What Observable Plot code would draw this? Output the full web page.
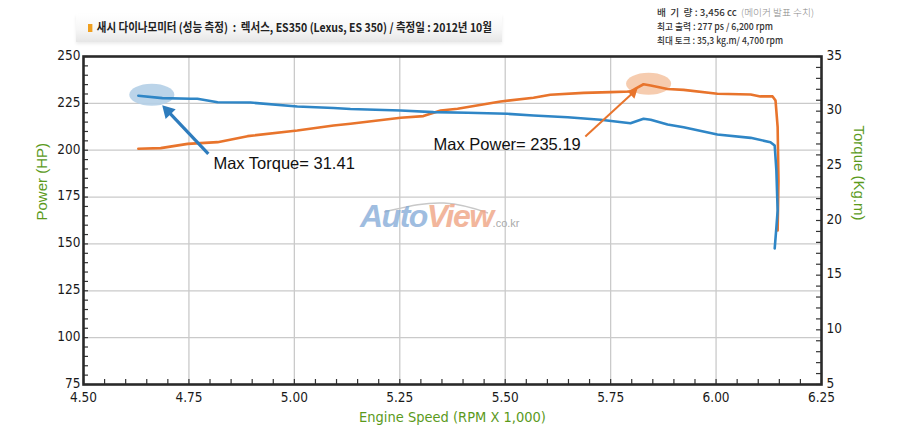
<!DOCTYPE html>
<html>
<head>
<meta charset="utf-8">
<script src="https://cdn.jsdelivr.net/npm/d3@7"></script>
<script src="https://cdn.jsdelivr.net/npm/@observablehq/plot@0.6"></script>
<style>
  html, body { margin: 0; padding: 0; background: #fff; }
  #wrap { position: relative; width: 900px; height: 436px; overflow: hidden; }
  #chart { position: absolute; left: 0; top: 0; }
  .hdr { position: absolute; white-space: nowrap; font-family: "Noto Sans CJK KR", sans-serif; transform-origin: 0 50%; }
  #titlebox { position: absolute; left: 76px; top: 14px; width: 426px; height: 28px;
    background: linear-gradient(to bottom, #ffffff 0%, #f6f6f6 55%, #e6e6e6 100%);
    box-shadow: 0 2px 3px rgba(0,0,0,0.08); }
  #title { left: 88px; top: 19px; font-size: 12px; line-height: 16px; color: #222; font-weight: 600; }
  #title .sq { display: inline-block; width: 5px; height: 8px; background: #f0a020; margin-right: 5px; vertical-align: 0px; }
  .spec { font-size: 9.5px; line-height: 14px; color: #333; font-weight: 500; }
  .spec .g { color: #888; font-weight: 300; }
  #wm { position: absolute; left: 360px; top: 198px; font-family: "Liberation Sans", Arial, sans-serif; font-style: italic; font-weight: bold; font-size: 32px; letter-spacing: -1.5px; white-space: nowrap; }
  #wm .a { color: #7fa8d6; opacity: 0.75; }
  #wm .v { color: #f0a484; opacity: 0.8; }
  #wm .c { font-size: 11px; font-style: normal; font-weight: normal; color: #aaa; letter-spacing: 0; }
</style>
</head>
<body>
<div id="wrap">
  <div id="chart"></div>
  <div id="titlebox"></div>
  <div class="hdr" id="title"><span class="sq"></span>새시 다이나모미터 (성능 측정) &nbsp;: &nbsp;렉서스, ES350 (Lexus, ES 350) / 측정일 : 2012년 10월</div>
  <div class="hdr spec" id="s1" style="left:657px; top:5px;">배 &nbsp;기 &nbsp;량 : 3,456 cc &nbsp;<span class="g">(메이커 발표 수치)</span></div>
  <div class="hdr spec" id="s2" style="left:657px; top:19px;">최고 출력 : 277 ps / 6,200 rpm</div>
  <div class="hdr spec" id="s3" style="left:657px; top:33px;">최대 토크 : 35,3 kg.m/ 4,700 rpm</div>
  <svg style="position:absolute;left:382px;top:200px;" width="110" height="16"><path d="M2,12 C20,8 40,2 62,3 C78,4 92,8 106,13" fill="none" stroke="#c8c8c8" stroke-width="1.5"/></svg>
  <div id="wm"><span class="a">Auto</span><span class="v">View</span><span class="c">.co.kr</span></div>
</div>
<script>
// ---- data ----
const powerRpm = [4.630, 4.683, 4.747, 4.818, 4.889, 5.007, 5.093, 5.133, 5.252, 5.306, 5.347, 5.387, 5.489, 5.567, 5.607, 5.686, 5.750, 5.797, 5.809, 5.828, 5.845, 5.885, 5.923, 6.003, 6.082, 6.105, 6.134, 6.141, 6.146, 6.148, 6.146];
const powerHp  = [200.8, 201.1, 203.4, 204.3, 207.5, 210.5, 213.2, 214.1, 217.3, 218.2, 221.2, 222.1, 226.0, 228.0, 229.6, 230.6, 231.0, 231.3, 232.8, 235.19, 234.5, 232.7, 232.2, 230.1, 229.7, 228.7, 228.7, 226.5, 212.3, 183.8, 157.2];

const torqueRpm = [4.630, 4.687, 4.754, 4.770, 4.818, 4.896, 5.007, 5.093, 5.133, 5.252, 5.330, 5.411, 5.505, 5.567, 5.648, 5.726, 5.797, 5.828, 5.845, 5.885, 5.923, 6.003, 6.082, 6.129, 6.139, 6.143, 6.146, 6.143, 6.139];
const torqueKgm = [31.41, 31.19, 31.13, 31.13, 30.82, 30.79, 30.43, 30.29, 30.20, 30.06, 29.91, 29.85, 29.76, 29.60, 29.45, 29.21, 28.90, 29.30, 29.21, 28.78, 28.53, 27.87, 27.56, 27.16, 26.86, 24.57, 20.91, 19.36, 17.44];

const xTicks = [4.50, 4.75, 5.00, 5.25, 5.50, 5.75, 6.00, 6.25];
const hpTicks = [75, 100, 125, 150, 175, 200, 225, 250];
const torqueTicks = [5, 10, 15, 20, 25, 30, 35];

const maxTorque = {rpm: 4.630, value: 31.41, label: "Max Torque= 31.41"};
const maxPower  = {rpm: 5.828, value: 235.19, label: "Max Power= 235.19"};

// ---- helpers ----
const hpMin = 75, hpMax = 250, tqMin = 5, tqMax = 35;
const toHP = t => hpMin + (t - tqMin) * (hpMax - hpMin) / (tqMax - tqMin);
const fromHP = h => tqMin + (h - hpMin) * (tqMax - tqMin) / (hpMax - hpMin);

const W = 900, H = 436, mL = 83, mR = 79, mT = 56, mB = 52;
const pw = W - mL - mR, ph = H - mT - mB;

const powerData = powerRpm.map((r, i) => ({rpm: r, hp: powerHp[i]}));
const torqueData = torqueRpm.map((r, i) => ({rpm: r, hp: toHP(torqueKgm[i])}));
const tqPeak = {rpm: maxTorque.rpm, hp: toHP(maxTorque.value)};
const pwPeak = {rpm: maxPower.rpm, hp: maxPower.value};

const xMinor = d3.range(4.5, 6.2501, 0.05);
const hpMinor = d3.range(75, 250.01, 5);
const tqMinor = d3.range(5, 35.01, 1);

const ellipse = {
  draw(ctx, size) {
    const r = Math.sqrt(size / Math.PI), rx = r * 2.05, ry = r, k = 0.5523;
    ctx.moveTo(rx, 0);
    ctx.bezierCurveTo(rx, ry * k, rx * k, ry, 0, ry);
    ctx.bezierCurveTo(-rx * k, ry, -rx, ry * k, -rx, 0);
    ctx.bezierCurveTo(-rx, -ry * k, -rx * k, -ry, 0, -ry);
    ctx.bezierCurveTo(rx * k, -ry, rx, -ry * k, rx, 0);
    ctx.closePath();
  }
};

const tickFont = '"Liberation Sans Narrow", "DejaVu Sans Condensed", sans-serif';
const labelFont = '"Liberation Sans", sans-serif';

const plot = Plot.plot({
  width: W, height: H,
  marginLeft: mL, marginRight: mR, marginTop: mT, marginBottom: mB,
  style: {fontFamily: tickFont, fontSize: "13.5px", color: "#1a1a1a", background: "transparent"},
  x: {domain: [4.5, 6.25]},
  y: {domain: [hpMin, hpMax]},
  marks: [
    Plot.ruleX(xTicks.slice(1, -1), {stroke: "#cacaca", strokeWidth: 1.3}),
    Plot.ruleY(hpTicks.slice(1, -1), {stroke: "#cacaca", strokeWidth: 1.3}),
    Plot.tickX(xMinor, {x: d => d, insetTop: ph - 5, stroke: "#333", strokeWidth: 1.2}),
    Plot.tickY(hpMinor, {y: d => d, insetRight: pw - 5, stroke: "#333", strokeWidth: 1.2}),
    Plot.tickY(tqMinor, {y: d => toHP(d), insetLeft: pw - 5, stroke: "#333", strokeWidth: 1.2}),
    Plot.axisX({ticks: xTicks, tickFormat: d => d.toFixed(2), tickSize: 0, tickPadding: 8, label: null}),
    Plot.axisY({anchor: "left", ticks: hpTicks, tickSize: 0, tickPadding: 3, dy: -1, label: null}),
    Plot.axisY({anchor: "right", ticks: torqueTicks.map(toHP), tickFormat: d => Math.round(fromHP(d)), tickSize: 0, tickPadding: 5, dy: -1, label: null}),
    Plot.text(["Power (HP)"], {frameAnchor: "left", dx: -41, rotate: -90, fill: "#5b9a1c", fontSize: 15, fontFamily: labelFont}),
    Plot.text(["Torque (Kg.m)"], {frameAnchor: "right", dx: 37, rotate: 90, fill: "#5b9a1c", fontSize: 15, fontFamily: labelFont}),
    Plot.text(["Engine Speed (RPM X 1,000)"], {frameAnchor: "bottom", dy: 37, fill: "#5b9a1c", fontSize: 14.5}),
    // highlight ellipses
    Plot.dot([tqPeak], {x: d => d.rpm + 0.032, y: d => d.hp + 0.6, r: 11, symbol: ellipse, fill: "#b4cfe7", fillOpacity: 0.9}),
    Plot.dot([pwPeak], {x: d => d.rpm + 0.012, y: d => d.hp + 0.3, r: 11, symbol: ellipse, fill: "#f5c6a6", fillOpacity: 0.9}),
    // curves
    Plot.line(powerData, {x: "rpm", y: "hp", stroke: "#e8742c", strokeWidth: 2.6, curve: "linear"}),
    Plot.line(torqueData, {x: "rpm", y: "hp", stroke: "#2f86c6", strokeWidth: 2.6, curve: "linear"}),
    // arrows: shaft + filled head
    Plot.link([tqPeak], {x1: d => d.rpm + 0.166, y1: d => d.hp - 31, x2: d => d.rpm + 0.070, y2: d => d.hp - 8.2, stroke: "#2e7cbd", strokeWidth: 3.2}),
    Plot.dot([tqPeak], {x: d => d.rpm + 0.070, y: d => d.hp - 8.2, r: 5.2, symbol: "triangle", rotate: -44, fill: "#2e7cbd"}),
    Plot.link([pwPeak], {x1: d => d.rpm - 0.138, y1: d => d.hp - 27.9, x2: d => d.rpm - 0.025, y2: d => d.hp - 4.5, stroke: "#e8742c", strokeWidth: 2}),
    Plot.dot([pwPeak], {x: d => d.rpm - 0.025, y: d => d.hp - 4.5, r: 4, symbol: "triangle", rotate: 47, fill: "#e8742c"}),
    // labels
    Plot.text([maxTorque], {x: d => d.rpm + 0.178, y: d => toHP(d.value) - 36.5, text: "label", textAnchor: "start", fontSize: 16.5, fill: "#111", fontFamily: labelFont}),
    Plot.text([maxPower], {x: d => d.rpm - 0.498, y: d => d.value - 32.2, text: "label", textAnchor: "start", fontSize: 16.5, fill: "#111", fontFamily: labelFont}),
    Plot.frame({stroke: "#2a2a2a", strokeWidth: 2.6})
  ]
});
document.getElementById("chart").appendChild(plot);

// fit header texts to the widths seen in the reference
function fit(id, w) {
  const el = document.getElementById(id);
  const cw = el.getBoundingClientRect().width;
  if (cw > 0) el.style.transform = `scaleX(${w / cw})`;
}
fit("title", 404);
fit("s1", 157);
fit("s2", 116);
fit("s3", 126);
</script>
</body>
</html>
